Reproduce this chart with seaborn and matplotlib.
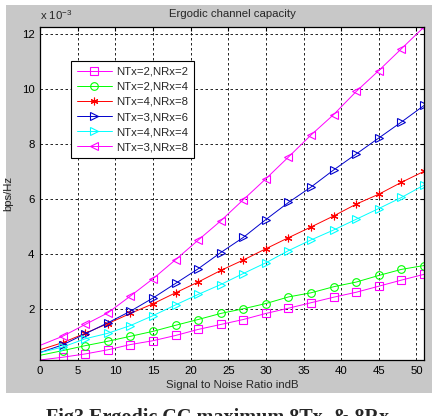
import matplotlib
matplotlib.use("Agg")
import matplotlib.pyplot as plt
from matplotlib.patches import Rectangle
import numpy as np
import pandas as pd
import seaborn as sns

# SNR points (dB) and ergodic capacity (units of 1e-3 bps/Hz)
snr_db = [0, 3, 6, 9, 12, 15, 18, 21, 24, 27, 30, 33, 36, 39, 42, 45, 48, 51]

cap_2x2 = [0.15, 0.25, 0.37, 0.52, 0.71, 0.85, 1.04, 1.26, 1.44, 1.62, 1.84, 2.03,
           2.23, 2.43, 2.61, 2.83, 3.05, 3.26]
cap_2x4 = [0.32, 0.49, 0.67, 0.83, 1.01, 1.19, 1.41, 1.62, 1.84, 2.01, 2.20, 2.44,
           2.59, 2.81, 2.98, 3.22, 3.44, 3.58]
cap_4x8 = [0.52, 0.78, 1.12, 1.47, 1.84, 2.19, 2.59, 2.98, 3.40, 3.78, 4.19, 4.59,
           4.98, 5.38, 5.81, 6.17, 6.60, 7.00]
cap_3x6 = [0.42, 0.70, 1.10, 1.50, 1.92, 2.40, 2.93, 3.46, 4.05, 4.60, 5.25, 5.87,
           6.43, 7.05, 7.63, 8.21, 8.79, 9.39]
cap_4x4 = [0.42, 0.62, 0.92, 1.12, 1.40, 1.76, 2.15, 2.53, 2.89, 3.29, 3.68, 4.12,
           4.51, 4.87, 5.26, 5.65, 6.05, 6.50]
cap_3x8 = [0.68, 1.01, 1.44, 1.86, 2.47, 3.10, 3.79, 4.50, 5.20, 5.97, 6.73, 7.52,
           8.32, 9.06, 9.90, 10.66, 11.45, 12.24]

labels = ["NTx=2,NRx=2", "NTx=2,NRx=4", "NTx=4,NRx=8",
          "NTx=3,NRx=6", "NTx=4,NRx=4", "NTx=3,NRx=8"]
series = [cap_2x2, cap_2x4, cap_4x8, cap_3x6, cap_4x4, cap_3x8]
colors = ["#ff00ff", "#00ff00", "#ff0000", "#0000cc", "#00ffff", "#ff00ff"]
markers = ["s", "o", (6, 2, 0), ">", ">", "<"]

sns.set_style("white")
plt.rcParams["font.family"] = ["Liberation Sans", "DejaVu Sans"]
fs = 8.2

fig = plt.figure(figsize=(4.35, 4.16), dpi=100, facecolor="white")
# grey MATLAB figure panel
fig.patches.append(Rectangle((6 / 435, 1 - 393 / 416), 426 / 435, 388 / 416,
                             transform=fig.transFigure, facecolor="#c8c8c8",
                             edgecolor="none", zorder=-10))
ax = fig.add_axes([40 / 435, 1 - 360 / 416, 384 / 435, 333 / 416])
ax.set_facecolor("white")

for lab, vals, col, mk in zip(labels, series, colors, markers):
    df = pd.DataFrame({"snr": snr_db, "cap": vals})
    sns.lineplot(data=df, x="snr", y="cap", ax=ax, color=col, marker=mk,
                 markevery=list(range(1, len(snr_db))), markersize=5.5,
                 markerfacecolor="none", markeredgecolor=col, markeredgewidth=0.8,
                 linewidth=0.7, label=lab)

allv = np.concatenate([np.array(s) for s in series])
ax.set_xlim(0, 51)
ax.set_ylim(allv.min(), allv.max())
ax.set_xticks(range(0, 51, 5))
ax.set_yticks([2, 4, 6, 8, 10, 12])
ax.grid(True, color="black", linestyle=(0, (3, 3)), linewidth=0.6)
ax.tick_params(direction="in", length=3, labelsize=fs, pad=4,
               top=True, right=True, colors="black")
for sp in ax.spines.values():
    sp.set_color("black")
    sp.set_linewidth(0.9)

ax.set_title("Ergodic channel capacity", fontsize=fs, pad=7)
ax.set_xlabel("Signal to Noise Ratio indB", fontsize=fs, labelpad=3)
ax.set_ylabel("bps/Hz", fontsize=fs, labelpad=6)
ax.text(0, 1.015, r"x 10$^{\mathregular{-3}}$", transform=ax.transAxes,
        fontsize=fs, va="bottom", ha="left")

leg = ax.legend(loc="upper left", bbox_to_anchor=(0.081, 0.898), borderaxespad=0,
                fontsize=fs, frameon=True, fancybox=False, framealpha=1,
                edgecolor="black", handlelength=3.1, handletextpad=0.35,
                labelspacing=0.45, borderpad=0.5, numpoints=1)
leg.get_frame().set_linewidth(0.8)

fig.text(0.5, 1 - 423 / 416, "Fig3 Ergodic CC maximum 8Tx  & 8Rx",
         ha="center", va="baseline", fontsize=14.5, fontweight="bold",
         family="Liberation Serif")

fig.savefig("out.png", dpi=100, facecolor=fig.get_facecolor())
